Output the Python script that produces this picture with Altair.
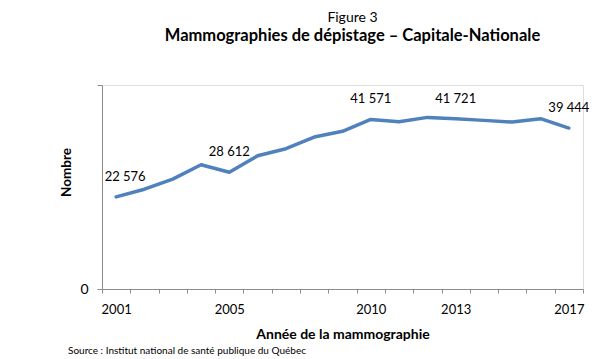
import altair as alt
import pandas as pd

years = ["2001", "2002", "2003", "2004", "2005", "2006", "2007", "2008", "2009",
         "2010", "2011", "2012", "2013", "2014", "2015", "2016", "2017"]
values = [22576, 24460, 26920, 30450, 28612, 32660, 34380, 37250, 38650,
          41571, 41000, 42060, 41721, 41330, 40920, 41740, 39444]
labelled_years = ["2001", "2005", "2010", "2013", "2017"]
y_ticks = [0, 50000]

df = pd.DataFrame({"annee": years, "nombre": values})
df["etiquette"] = [f"{v:,}".replace(",", " ") if y in labelled_years else "" for y, v in zip(years, values)]

FONT = "Lato"
label_cond = " || ".join(f"datum.label == '{y}'" for y in labelled_years)

x_enc = alt.X(
    "annee:O",
    sort=years,
    scale=alt.Scale(type="band", paddingInner=0, paddingOuter=0),
    axis=alt.Axis(
        title="Année de la mammographie",
        titleFont=FONT, titleFontSize=14, titleFontWeight="bold", titleColor="black",
        titlePadding=11,
        labelFont=FONT, labelFontSize=13, labelColor="black", labelAngle=0,
        labelPadding=10,
        labelExpr=f"({label_cond}) ? datum.label : ''",
        tickBand="extent", tickSize=4, tickColor="#8c8c8c", domainColor="#8c8c8c",
        grid=False,
    ),
)
y_enc = alt.Y(
    "nombre:Q",
    scale=alt.Scale(domain=[0, 50000], nice=False),
    axis=alt.Axis(
        title="Nombre",
        titleFont=FONT, titleFontSize=13.5, titleFontWeight="bold", titleColor="black",
        titleX=-36, titleY=87, titleBaseline="middle", titleAlign="center",
        values=y_ticks,
        labelExpr="datum.value == 0 ? '0' : ''",
        labelFont=FONT, labelFontSize=14, labelColor="black", labelPadding=9,
        tickSize=5, tickColor="#8c8c8c", domainColor="#8c8c8c",
        grid=False,
    ),
)

base = alt.Chart(df)

line = base.mark_line(color="#4F81BD", strokeWidth=3.5, strokeJoin="round", strokeCap="round").encode(
    x=x_enc, y=y_enc
)

labels_main = base.transform_filter(
    (alt.datum.etiquette != "") & (alt.datum.annee != years[0])
).mark_text(font=FONT, fontSize=13, color="black", dy=-20, baseline="middle").encode(
    x=alt.X("annee:O", sort=years), y="nombre:Q", text="etiquette:N"
)
labels_first = base.transform_filter(
    alt.datum.annee == years[0]
).mark_text(font=FONT, fontSize=13, color="black", dy=-20, dx=9, baseline="middle").encode(
    x=alt.X("annee:O", sort=years), y="nombre:Q", text="etiquette:N"
)

source = alt.Chart(pd.DataFrame({"t": ["Source : Institut national de santé publique du Québec"]})).mark_text(
    font=FONT, fontSize=10, color="black", align="left", baseline="middle"
).encode(x=alt.value(-34), y=alt.value(266), text="t:N")

chart = alt.layer(line, labels_main, labels_first, source).properties(
    width=481,
    height=204,
    title=alt.TitleParams(
        text="Figure 3",
        subtitle="Mammographies de dépistage – Capitale-Nationale",
        font=FONT, fontSize=14, fontWeight="normal", color="black",
        subtitleFont=FONT, subtitleFontSize=16.5, subtitleFontWeight="bold", subtitleColor="black",
        subtitlePadding=3,
        anchor="middle", dx=10, offset=40, frame="group",
    ),
    autosize=alt.AutoSizeParams(type="none"),
    padding={"left": 94, "top": 77, "right": 9, "bottom": 70},
).configure_view(stroke=None).configure(background="white")

chart.save("out.html", embed_options={"renderer": "svg", "actions": False})
